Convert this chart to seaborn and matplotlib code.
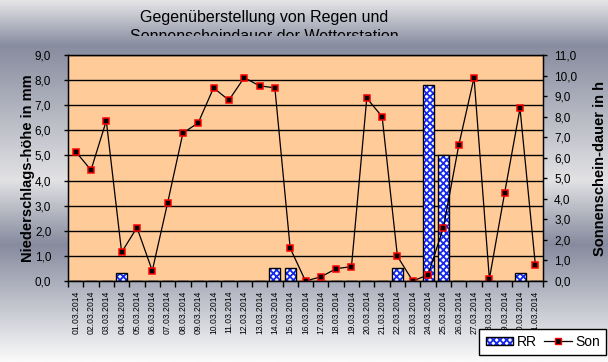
import numpy as np
import pandas as pd
import seaborn as sns
import matplotlib.pyplot as plt
from matplotlib.colors import LinearSegmentedColormap, to_rgba
from matplotlib.patches import Patch
from matplotlib.lines import Line2D
from matplotlib.ticker import FuncFormatter
from matplotlib.transforms import Bbox, TransformedBbox

days = ["01.03.2014", "02.03.2014", "03.03.2014", "04.03.2014", "05.03.2014",
        "06.03.2014", "07.03.2014", "08.03.2014", "09.03.2014", "10.03.2014",
        "11.03.2014", "12.03.2014", "13.03.2014", "14.03.2014", "15.03.2014",
        "16.03.2014", "17.03.2014", "18.03.2014", "19.03.2014", "20.03.2014",
        "21.03.2014", "22.03.2014", "23.03.2014", "24.03.2014", "25.03.2014",
        "26.03.2014", "27.03.2014", "28.03.2014", "29.03.2014", "30.03.2014",
        "31.03.2014"]
rain = [0, 0, 0, 0.3, 0, 0, 0, 0, 0, 0, 0, 0, 0, 0.5, 0.5, 0,
        0, 0, 0, 0, 0, 0.5, 0, 7.8, 5.0, 0, 0, 0, 0, 0.3, 0]
sun = [6.3, 5.4, 7.8, 1.4, 2.6, 0.5, 3.8, 7.2, 7.7, 9.4, 8.8, 9.9, 9.5, 9.4, 1.6, 0.0,
       0.2, 0.6, 0.7, 8.9, 8.0, 1.2, 0.0, 0.3, 2.6, 6.6, 9.9, 0.1, 4.3, 8.4, 0.8]

df = pd.DataFrame({"day": days, "RR": rain, "Son": sun})
df["pos"] = range(len(df))

plt.rcParams["font.family"] = ["Liberation Sans", "DejaVu Sans"]
plt.rcParams["hatch.linewidth"] = 1.3
HATCH_BLUE = to_rgba("#1428f0")

W, H = 608, 362
fig = plt.figure(figsize=(W / 100, H / 100), dpi=100)

# grey gradient background
bg = fig.add_axes([0, 0, 1, 1], zorder=-10)
stops = [(0.0, "#e4e4e6"), (45 / H, "#878c9f"), (180 / H, "#e2e2e4"),
         (245 / H, "#868b9e"), (1.0, "#fafafa")]
cmap = LinearSegmentedColormap.from_list("bg", stops)
bg.imshow(np.linspace(0, 1, 400).reshape(-1, 1), aspect="auto", cmap=cmap,
          extent=[0, 1, 0, 1], origin="upper")
bg.set_axis_off()

ax = fig.add_axes([68 / W, 1 - 281 / H, 475 / W, 226 / H])
ax.set_facecolor("#ffcc99")
ax.set_axisbelow(True)

sns.barplot(data=df, x="day", y="RR", color="white", width=0.72, ax=ax,
            edgecolor="black", linewidth=1, hatch="xxxxx", zorder=2)
for p in ax.patches:
    p._hatch_color = HATCH_BLUE
ax.set_ylim(0, 9)
ax.set_xlim(-0.5, len(days) - 0.5)
ax.set_yticks(np.arange(0, 10, 1))
ax.yaxis.grid(True, color="black", linewidth=1)
comma = FuncFormatter(lambda v, _: f"{v:.1f}".replace(".", ","))
ax.yaxis.set_major_formatter(comma)
ax.tick_params(axis="y", labelsize=8.5, length=3, width=1, pad=9, color="black")
ax.set_xticks(np.arange(-0.5, len(days), 1))
ax.set_xticklabels([])
ax.set_xticks(df["pos"], df["day"], minor=True)
ax.tick_params(axis="x", which="major", length=4, width=1, direction="out")
ax.tick_params(axis="x", which="minor", length=0, labelsize=6.2, labelrotation=90, pad=7)
ax.set_xlabel("")
ax.set_ylabel("Niederschlags-höhe in mm", fontsize=10.5, fontweight="bold")
ax.yaxis.set_label_coords(-0.07, 0.5)
for s in ax.spines.values():
    s.set_color("black")
    s.set_linewidth(1)

ax2 = ax.twinx()
sns.lineplot(data=df, x="pos", y="Son", ax=ax2, color="black", linewidth=0.9,
             marker="s", markersize=5, markerfacecolor="black",
             markeredgecolor="red", markeredgewidth=1.1)
ax2.set_ylim(0, 11)
ax2.set_yticks(np.arange(0, 12, 1))
ax2.yaxis.set_major_formatter(comma)
ax2.tick_params(axis="y", labelsize=8.5, length=3, width=1, pad=5)
ax2.set_ylabel("Sonnenschein-dauer in h", fontsize=10.5, fontweight="bold")
ax2.yaxis.set_label_coords(1.106, 0.5)
ax2.set_xlabel("")
ax2.set_xlim(-0.5, len(days) - 0.5)

# title, second line cut off like in the original
fig.text(264 / W, 1 - 22 / H, "Gegenüberstellung von Regen und", ha="center",
         va="baseline", fontsize=11.5)
t2 = fig.text(264 / W, 1 - 41 / H, "Sonnenscheindauer der Wetterstation", ha="center",
              va="baseline", fontsize=11.5)
t2.set_clip_box(TransformedBbox(Bbox([[0, 1 - 36 / H], [1, 1]]), fig.transFigure))
t2.set_clip_on(True)

rr_handle = Patch(facecolor="white", edgecolor="black", hatch="xxxxx", linewidth=1)
rr_handle._hatch_color = HATCH_BLUE
handles = [rr_handle,
           Line2D([], [], color="black", lw=0.9, marker="s", markersize=5,
                  markerfacecolor="black", markeredgecolor="red")]
leg = fig.legend(handles, ["RR", "Son"], loc="lower right",
                 bbox_to_anchor=(606 / W, 1 - 355 / H), ncol=2, fontsize=10,
                 frameon=True, fancybox=False, edgecolor="black", framealpha=1,
                 handlelength=2.0, handleheight=0.5, columnspacing=0.5,
                 handletextpad=0.25, borderpad=0.45, borderaxespad=0)
leg.get_frame().set_linewidth(1)
for lp in leg.get_patches():
    lp._hatch_color = HATCH_BLUE

fig.savefig("out.png", dpi=100)
